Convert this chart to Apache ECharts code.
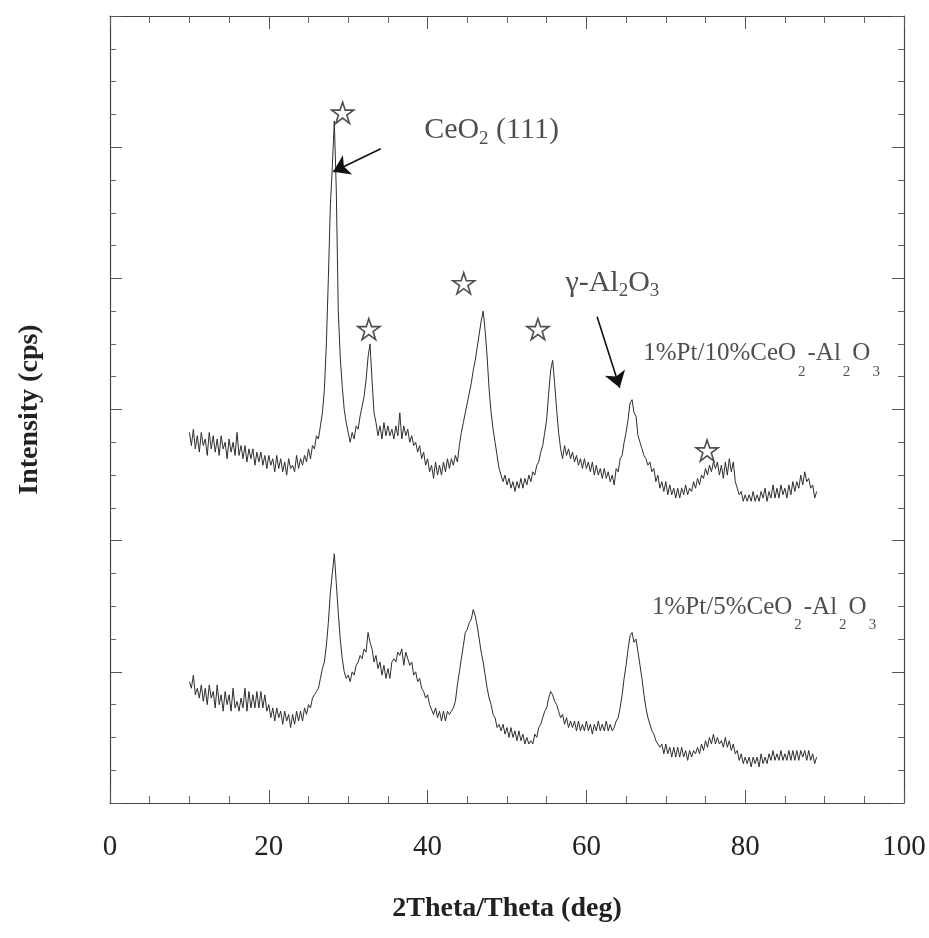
<!DOCTYPE html>
<html>
<head>
<meta charset="utf-8">
<script src="https://cdn.jsdelivr.net/npm/echarts@6/dist/echarts.min.js"></script>
<style>html,body{margin:0;padding:0;background:#fff}#c{width:929px;height:938px}</style>
</head>
<body>
<div id="c"></div>
<script>
// 2Theta grid: 10.00 .. 89.00 deg, step 0.25 deg
const thetaStart = 10, thetaStep = 0.25;

// 1%Pt/10%CeO2-Al2O3 (upper trace), 4 readings per degree
const pt10CeO2 = [
11.3,10.9,11.4,10.8, 11.2,10.7,11.3,10.9, 11.1,10.6,11.3,10.8, 11.2,10.7,11.1,10.6,
11.2,10.8,11.0,10.5, 11.1,10.7,11.0,10.6, 11.3,10.6,10.9,10.5, 10.9,10.4,10.8,10.5,
10.8,10.3,10.7,10.4, 10.7,10.3,10.6,10.2, 10.6,10.3,10.5,10.1, 10.6,10.2,10.5,10.1,
10.4,10.0,10.5,10.2, 10.3,10.1,10.6,10.2, 10.5,10.3,10.6,10.4, 10.8,10.5,10.9,10.8,
11.2,11.1,11.5,11.9, 12.6,14.0,16.0,18.2, 19.4,20.8,18.7,15.0, 13.6,12.7,12.0,11.6,
11.3,11.0,11.3,11.1, 11.5,11.4,11.8,12.1, 12.4,12.9,13.6,14.0, 12.9,11.9,11.6,11.2,
11.5,11.1,11.6,11.2, 11.5,11.2,11.4,11.1, 11.5,11.2,11.9,11.1, 11.5,11.2,11.4,11.0,
11.2,10.9,11.0,10.7, 10.9,10.5,10.7,10.3, 10.5,10.1,10.3,9.9,  10.4,10.0,10.3,10.0,
10.4,10.1,10.5,10.2, 10.5,10.3,10.6,10.4, 10.9,11.3,11.6,11.9, 12.2,12.5,12.8,13.2,
13.5,13.9,14.3,14.7, 15.0,14.4,13.6,12.6, 11.9,11.4,11.0,10.6, 10.2,10.0,9.8,10.0,
9.7,9.9,9.6,9.8,     9.5,9.8,9.6,9.9,     9.6,9.9,9.7,10.0,    9.8,10.1,10.0,10.3,
10.4,10.7,10.9,11.3, 11.7,12.5,13.2,13.5, 12.8,12.0,11.3,10.8, 10.5,10.9,10.6,10.8,
10.5,10.7,10.4,10.6, 10.3,10.5,10.2,10.5, 10.2,10.4,10.1,10.4, 10.0,10.3,10.0,10.2,
9.9,10.2,9.9,10.1,   9.8,10.0,9.7,10.2,   10.1,10.5,10.6,11.0, 11.3,11.7,12.2,12.3,
11.9,11.8,11.2,11.0, 10.8,10.6,10.5,10.3, 10.4,10.1,10.2,9.8,  10.0,9.6,9.8,9.5,
9.8,9.4,9.7,9.4,     9.6,9.3,9.6,9.3,     9.6,9.4,9.7,9.4,     9.6,9.5,9.8,9.6,
9.9,9.7,10.0,9.9,    10.2,10.0,10.3,10.1, 10.4,10.2,10.4,10.0, 10.3,9.9,10.4,10.0,
10.5,10.1,10.4,9.8,  9.6,9.4,9.5,9.2,     9.4,9.2,9.4,9.2,     9.5,9.2,9.4,9.2,
9.5,9.3,9.6,9.2,     9.5,9.3,9.7,9.3,     9.6,9.3,9.7,9.4,     9.6,9.3,9.7,9.4,
9.8,9.5,9.8,9.6,     10.0,9.7,10.1,9.8,   9.9,9.6,9.7,9.3,
9.5
];

// 1%Pt/5%CeO2-Al2O3 (lower trace), 4 readings per degree
const pt5CeO2 = [
3.7,3.5,3.9,3.3, 3.5,3.2,3.6,3.1, 3.5,3.0,3.6,3.2, 3.4,2.9,3.6,3.0,
3.3,2.8,3.4,3.0, 3.3,2.8,3.5,2.9, 3.1,2.8,3.2,2.9, 3.5,2.8,3.4,2.9,
3.3,2.9,3.4,2.9, 3.4,2.9,3.3,2.8, 3.0,2.6,2.9,2.5, 2.9,2.6,2.8,2.4,
2.8,2.5,2.7,2.3, 2.7,2.4,2.8,2.5, 2.8,2.5,2.9,2.7, 3.0,2.9,3.2,3.3,
3.4,3.5,3.8,4.1, 4.3,4.8,5.5,6.4, 7.0,7.6,6.7,5.8, 5.0,4.4,4.0,3.8,
3.9,3.7,4.0,3.9, 4.2,4.3,4.5,4.4, 4.7,4.6,5.2,4.9, 4.7,4.3,4.5,4.1,
4.3,3.9,4.2,3.8, 4.1,3.8,4.3,4.4, 4.3,4.6,4.5,4.7, 4.2,4.6,4.4,4.2,
4.3,3.9,4.0,3.7, 3.8,3.5,3.4,3.2, 3.3,3.0,3.0,2.7, 2.9,2.6,2.8,2.5,
2.8,2.5,2.8,2.7, 2.8,2.9,3.1,3.6, 4.0,4.4,4.8,5.2, 5.3,5.5,5.6,5.9,
5.7,5.4,5.0,4.6, 4.3,3.9,3.5,3.2, 3.0,2.7,2.6,2.3, 2.4,2.2,2.4,2.1,
2.3,2.0,2.3,2.0, 2.2,1.9,2.2,1.9, 2.1,1.8,2.0,1.8, 1.9,1.8,2.1,2.0,
2.3,2.4,2.6,2.8, 2.9,3.2,3.4,3.3, 3.1,3.0,2.8,2.6, 2.7,2.4,2.6,2.3,
2.5,2.3,2.5,2.2, 2.5,2.2,2.4,2.2, 2.5,2.2,2.4,2.1, 2.4,2.2,2.5,2.2,
2.4,2.2,2.5,2.2, 2.4,2.2,2.3,2.5, 2.6,2.9,3.3,3.8, 4.2,4.7,5.1,5.2,
4.9,5.0,4.6,4.2, 3.8,3.3,2.9,2.6, 2.6,2.2,2.1,1.9, 1.9,1.7,1.8,1.5,
1.8,1.5,1.7,1.4, 1.7,1.4,1.7,1.4, 1.7,1.4,1.6,1.3, 1.6,1.4,1.6,1.5,
1.7,1.5,1.8,1.6, 1.9,1.7,2.0,1.8, 2.1,1.8,2.0,1.8, 1.9,1.7,2.0,1.7,
1.9,1.6,1.8,1.5, 1.6,1.3,1.5,1.2, 1.4,1.2,1.4,1.1, 1.4,1.2,1.4,1.1,
1.5,1.2,1.4,1.2, 1.5,1.3,1.6,1.3, 1.5,1.3,1.6,1.3, 1.5,1.3,1.6,1.3,
1.6,1.3,1.6,1.3, 1.6,1.4,1.6,1.3, 1.6,1.3,1.5,1.2,
1.4
];

// Axis ticks
const xTicks = [0, 20, 40, 60, 80, 100];
const yRange = [0, 24];

// Star markers (CeO2 reflections): [2Theta, intensity]
const starX = [29.3, 32.6, 44.55, 53.9, 75.2];
const starY = [21.05, 14.45, 15.85, 14.45, 10.75];

// Arrows: [fromX, fromY, toX, toY]
const arrowCeO2 = [34.1, 19.95, 28.1, 19.25];
const arrowAl2O3 = [61.35, 14.83, 64.2, 12.66];

// Annotation anchors (left edge of text, vertical middle)
const noteText = ['CeO2 (111)', 'γ-Al2O3', '1%Pt/10%CeO2-Al2O3', '1%Pt/5%CeO2-Al2O3'];
const noteRich = [
  '{a|CeO}{s|2}{a| (111)}',
  '{a|γ-Al}{s|2}{a|O}{s|3}',
  '{b|1%Pt/10%CeO}{t|2}{b|-Al}{t|2}{b|O}{t|3}',
  '{b|1%Pt/5%CeO}{t|2}{b|-Al}{t|2}{b|O}{t|3}'
];
const noteX = [39.5, 57.3, 67.1, 68.2];
const noteY = [20.46, 15.8, 13.68, 5.95];

const SERIF = '"Liberation Serif", "Times New Roman", serif';
const ink = '#2e2e2e';

const upperData = pt10CeO2.map((v, i) => [thetaStart + i * thetaStep, v]);
const lowerData = pt5CeO2.map((v, i) => [thetaStart + i * thetaStep, v]);
const starData = starX.map((x, i) => [x, starY[i]]);
const noteData = noteX.map((x, i) => ({ value: [x, noteY[i]], name: noteText[i], rich: noteRich[i] }));

const chart = echarts.init(document.getElementById('c'), null, { renderer: 'canvas' });

const axisCommonX = {
  type: 'value', min: xTicks[0], max: xTicks[xTicks.length - 1], interval: 20,
  axisLine: { show: true, onZero: false, lineStyle: { color: '#444', width: 1.2 } },
  axisTick: { show: true, inside: true, length: 13, lineStyle: { color: '#555', width: 1 } },
  minorTick: { show: true, splitNumber: 4, length: 7, lineStyle: { color: '#666', width: 1 } },
  splitLine: { show: false }
};
const axisCommonY = {
  type: 'value', min: yRange[0], max: yRange[1], interval: 4,
  axisLine: { show: true, onZero: false, lineStyle: { color: '#444', width: 1.2 } },
  axisTick: { show: true, inside: true, length: 12, lineStyle: { color: '#555', width: 1 } },
  minorTick: { show: true, splitNumber: 4, length: 6, lineStyle: { color: '#666', width: 1 } },
  splitLine: { show: false },
  axisLabel: { show: false }
};

const starPath = 'path://M50,2 L61,36 L97,36 L68,57 L79,92 L50,70 L21,92 L32,57 L3,36 L39,36 Z';

chart.setOption({
  animation: false,
  backgroundColor: '#fff',
  grid: { left: 110, right: 25, top: 16, bottom: 135, containLabel: false },
  xAxis: [
    Object.assign({}, axisCommonX, {
      position: 'bottom',
      axisLabel: { show: true, fontFamily: SERIF, fontSize: 29, color: '#222', margin: 30 },
      name: '2Theta/Theta (deg)', nameLocation: 'middle', nameGap: 92,
      nameTextStyle: { fontFamily: SERIF, fontWeight: 'bold', fontSize: 28, color: '#222' }
    }),
    Object.assign({}, axisCommonX, { position: 'top', axisLabel: { show: false } })
  ],
  yAxis: [
    Object.assign({}, axisCommonY, {
      position: 'left',
      name: 'Intensity (cps)', nameLocation: 'middle', nameGap: 66,
      nameTextStyle: { fontFamily: SERIF, fontWeight: 'bold', fontSize: 28, color: '#222' }
    }),
    Object.assign({}, axisCommonY, { position: 'right' })
  ],
  series: [
    {
      name: '1%Pt/10%CeO2-Al2O3', type: 'line', data: upperData, showSymbol: false,
      lineStyle: { color: ink, width: 1 }, silent: true
    },
    {
      name: '1%Pt/5%CeO2-Al2O3', type: 'line', data: lowerData, showSymbol: false,
      lineStyle: { color: ink, width: 1 }, silent: true
    },
    {
      type: 'scatter', data: starData, symbol: starPath, symbolSize: 22, symbolKeepAspect: true,
      itemStyle: { color: '#fff', borderColor: '#222', borderWidth: 1.6 }, silent: true, z: 5
    },
    {
      type: 'lines', coordinateSystem: 'cartesian2d', silent: true, z: 6,
      symbol: ['none', 'arrow'], symbolSize: [10, 16],
      lineStyle: { color: '#111', width: 1.6, opacity: 1 },
      data: [
        { coords: [[arrowCeO2[0], arrowCeO2[1]], [arrowCeO2[2], arrowCeO2[3]]] },
        { coords: [[arrowAl2O3[0], arrowAl2O3[1]], [arrowAl2O3[2], arrowAl2O3[3]]] }
      ]
    },
    {
      type: 'scatter', data: noteData, symbolSize: 1, itemStyle: { color: 'rgba(0,0,0,0)' }, silent: true, z: 7,
      label: {
        show: true, position: 'right', distance: 0,
        formatter: p => p.data.rich,
        rich: {
          a: { fontFamily: SERIF, fontSize: 30, color: '#222', lineHeight: 34, verticalAlign: 'top' },
          s: { fontFamily: SERIF, fontSize: 19, color: '#222', lineHeight: 20, padding: [14, 0, 0, 0], verticalAlign: 'top' },
          b: { fontFamily: SERIF, fontSize: 25, color: '#222', lineHeight: 26, verticalAlign: 'top' },
          t: { fontFamily: SERIF, fontSize: 15, color: '#222', lineHeight: 16, padding: [23, 2, 0, 2], verticalAlign: 'top' }
        }
      }
    }
  ]
});
</script>
</body>
</html>
